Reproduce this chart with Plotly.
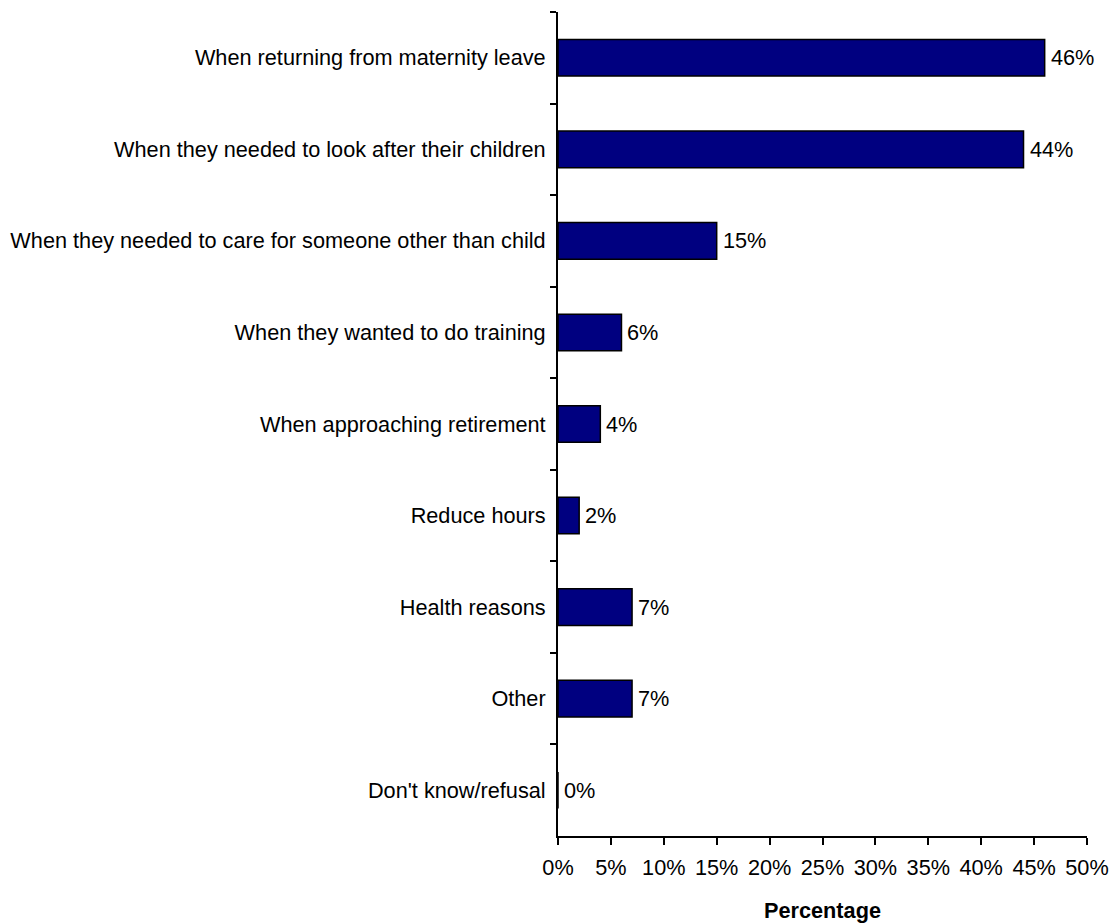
import plotly.graph_objects as go

categories = [
    "When returning from maternity leave",
    "When they needed to look after their children",
    "When they needed to care for someone other than child",
    "When they wanted to do training",
    "When approaching retirement",
    "Reduce hours",
    "Health reasons",
    "Other",
    "Don't know/refusal",
]
percentages = [46, 44, 15, 6, 4, 2, 7, 7, 0]
x_ticks = list(range(0, 51, 5))
x_tick_labels = [f"{t}%" for t in x_ticks]

FONT = "Arial, 'Liberation Sans', sans-serif"
FS = 21.7

fig = go.Figure(
    go.Bar(
        x=percentages,
        y=categories,
        orientation="h",
        marker=dict(color="#000080", line=dict(color="#000000", width=1.5)),
        hoverinfo="x+y",
    )
)

# value labels just past the end of each bar
for cat, val in zip(categories, percentages):
    fig.add_annotation(
        x=val, y=cat, text=f"{val}%", showarrow=False,
        xanchor="left", yanchor="middle", xshift=4,
        font=dict(family=FONT, size=FS, color="#000000"),
    )

fig.update_layout(
    width=1111, height=923,
    margin=dict(l=558, r=24, t=12, b=87),
    paper_bgcolor="white", plot_bgcolor="white",
    bargap=0.6,
    showlegend=False,
    font=dict(family=FONT, size=FS, color="#000000"),
)

fig.update_xaxes(
    range=[0, 50],
    tickvals=x_ticks, ticktext=x_tick_labels,
    showgrid=False, zeroline=False,
    showline=True, linecolor="#000000", linewidth=2,
    ticks="outside", ticklen=7, tickwidth=2, tickcolor="#000000",
    ticklabelstandoff=4,
    automargin=False,
    title=dict(text="<b>Percentage</b>", standoff=24,
               font=dict(family=FONT, size=FS, color="#000000")),
)

fig.update_yaxes(
    type="category",
    categoryorder="array", categoryarray=categories,
    autorange="reversed",
    tickson="boundaries",
    showgrid=False, zeroline=False,
    showline=True, linecolor="#000000", linewidth=2,
    ticks="outside", ticklen=6, tickwidth=2, tickcolor="#000000",
    ticklabelstandoff=6,
    automargin=False,
)

fig.write_html("out.html")
